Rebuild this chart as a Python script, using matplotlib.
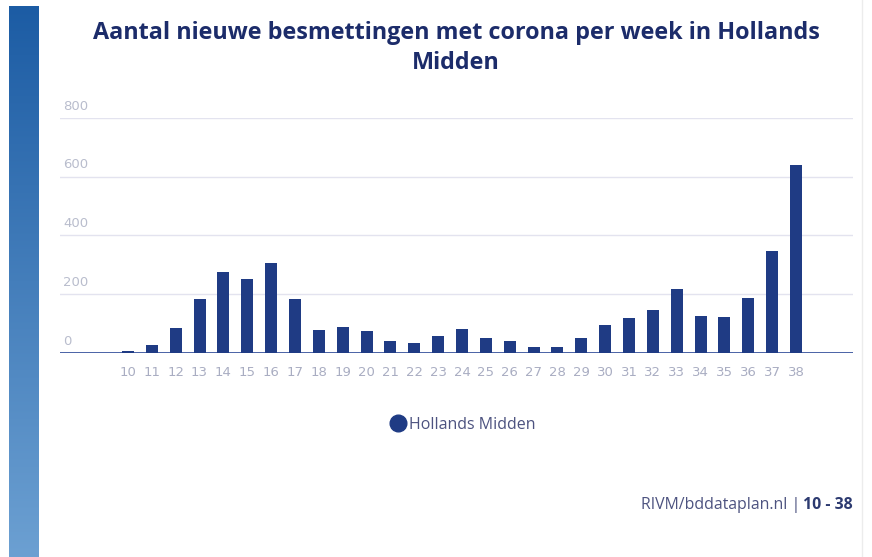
import numpy as np
import matplotlib.pyplot as plt
from matplotlib.lines import Line2D
from matplotlib.transforms import blended_transform_factory

# data
weeks = [str(w) for w in range(10, 39)]
cases = [6, 26, 85, 184, 275, 253, 305, 184, 80, 88, 76, 42, 35, 58,
         82, 52, 41, 20, 19, 51, 96, 119, 147, 218, 125, 122, 187, 346, 639]
yticks = [0, 200, 400, 600, 800]

W, H = 872, 557
fig = plt.figure(figsize=(W / 100, H / 100), dpi=100)
fig.patch.set_facecolor("white")

# blue stripe on the left (gradient)
sax = fig.add_axes([9 / W, 0, 29 / W, (H - 6) / H])
grad = np.linspace(0, 1, 256).reshape(-1, 1)
top = np.array([0x1c, 0x5c, 0xa4]) / 255
bot = np.array([0x6c, 0xa0, 0xd2]) / 255
img = top[None, None, :] * (1 - grad[:, :, None]) + bot[None, None, :] * grad[:, :, None]
sax.imshow(img, aspect="auto", extent=[0, 1, 0, 1])
sax.axis("off")

# faint line on the right
fig.add_artist(Line2D([862 / W, 862 / W], [0, 1], color="#ececec", lw=1))

# main axes
x0, x1, yb, yt = 60, 853, 353, 118
ax = fig.add_axes([x0 / W, (H - yb) / H, (x1 - x0) / W, (yb - yt) / H])
x = np.arange(len(weeks))
ax.bar(x, cases, width=0.5, color="#1f3b84", zorder=3)
ax.set_xlim(-2.85, 30.39)
ax.set_ylim(0, 800)
ax.set_xticks(x)
ax.set_xticklabels(weeks, fontsize=9.5, color="#a9adc2", family="DejaVu Sans")
ax.tick_params(axis="x", length=0, pad=9)
ax.set_yticks(yticks)
ax.set_yticklabels([])
ax.tick_params(axis="y", length=0)
for s in ax.spines.values():
    s.set_visible(False)
ax.grid(axis="y", color="#e3e3ef", lw=1, zorder=0)
ax.axhline(0, color="#4a62a6", lw=1.4, zorder=2)

trans = blended_transform_factory(ax.transAxes, ax.transData)
for v in yticks:
    ax.text(3 / (x1 - x0), v + 18, str(v), transform=trans, ha="left", va="bottom",
            fontsize=9.5, color="#b9bdcd", family="DejaVu Sans")

# title
fig.text(456 / W, 1 - 48 / H, "Aantal nieuwe besmettingen met corona per week in Hollands\nMidden",
         ha="center", va="center", fontsize=16.8, fontweight="bold", color="#1c2c6a",
         family="Open Sans", linespacing=1.35)

# legend
fig.legend(handles=[Line2D([], [], marker="o", ls="", color="#1f3b84", markersize=12)],
           labels=["Hollands Midden"], loc="center", bbox_to_anchor=(459 / W, 1 - 425 / H),
           frameon=False, handletextpad=-0.3, labelcolor="#4d5380",
           prop={"family": "Open Sans", "size": 11.5})

# source
renderer = fig.canvas.get_renderer()
b = fig.text(853 / W, 1 - 505 / H, "10 - 38", ha="right", va="center", fontsize=11.4,
             fontweight="bold", color="#2c3a70", family="Open Sans")
bb = b.get_window_extent(renderer)
fig.text((bb.x0 - 3) / W, 1 - 505 / H, "RIVM/bddataplan.nl |", ha="right", va="center",
         fontsize=11.4, color="#4d5380", family="Open Sans")

fig.savefig("out.png", dpi=100)
